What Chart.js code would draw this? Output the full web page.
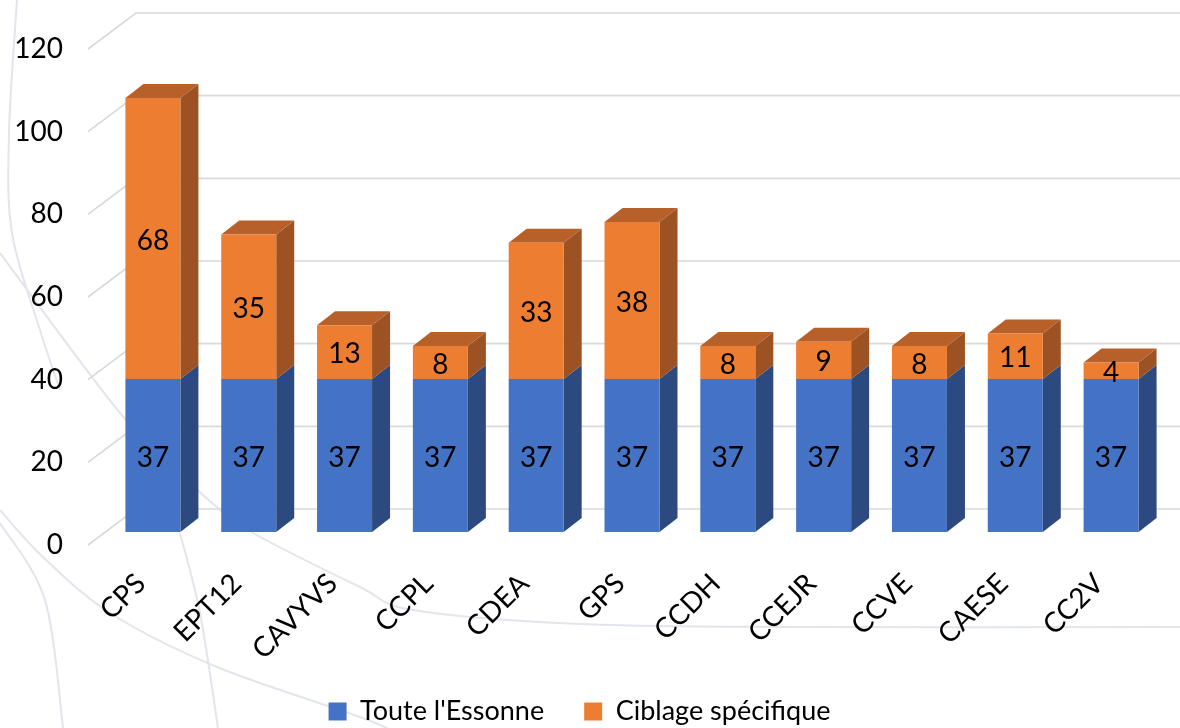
<!DOCTYPE html>
<html><head><meta charset="utf-8">
<script src="https://cdn.jsdelivr.net/npm/chart.js@4.4.1/dist/chart.umd.min.js"></script>
<style>html,body{margin:0;padding:0;background:#fff}#wrap{width:1180px;height:728px;position:relative}</style>
</head><body><div id="wrap"><canvas id="c" width="1180" height="728"></canvas></div>
<script>
// ---- data ----
const categories = ['CPS','EPT12','CAVYVS','CCPL','CDEA','GPS','CCDH','CCEJR','CCVE','CAESE','CC2V'];
const touteEssonne = [37,37,37,37,37,37,37,37,37,37,37];
const ciblageSpecifique = [68,35,13,8,33,38,8,9,8,11,4];
const seriesNames = ["Toute l'Essonne", "Ciblage spécifique"];
const yTicks = [0,20,40,60,80,100,120];

// ---- style ----
const FONT = 'Lato, "Open Sans", sans-serif';
const COL_BLUE = '#4472C4', COL_ORANGE = '#ED7D31';
const SIDE_BLUE = '#2C4A80', SIDE_ORANGE = '#9C5222', TOP_ORANGE = '#B8602A', TOP_BLUE = '#3A62A8';
const FRONT = {dx:-17, dy:13};   // front plane relative to bar front plane
const BACK = {dx:31, dy:-23};    // back wall relative to bar front plane
const BD = {dx:18, dy:-14};      // bar depth
const GRID = '#d9d9d9';

// decorative background curves (slide background)
const bgCurves = [
  [[17,0],[9,133],[12,233],[40,330],[60,390]],
  [[0,253],[120,413],[187,480],[218,508],[253,533],[360,587],[413,610],[580,624],[800,627],[1180,627]],
  [[0,510],[43,557],[110,613],[217,667],[360,717],[400,735]],
  [[0,523],[45,600],[63,728]],
  [[180,533],[200,613],[218,728]]
];
function smooth(ctx, pts){
  ctx.beginPath(); ctx.moveTo(pts[0][0], pts[0][1]);
  for(let i=0;i<pts.length-1;i++){
    const p0=pts[Math.max(0,i-1)], p1=pts[i], p2=pts[i+1], p3=pts[Math.min(pts.length-1,i+2)];
    ctx.bezierCurveTo(p1[0]+(p2[0]-p0[0])/6, p1[1]+(p2[1]-p0[1])/6, p2[0]-(p3[0]-p1[0])/6, p2[1]-(p3[1]-p1[1])/6, p2[0], p2[1]);
  }
  ctx.stroke();
}
function poly(ctx, pts, col){
  ctx.beginPath(); ctx.moveTo(pts[0], pts[1]);
  for(let i=2;i<pts.length;i+=2) ctx.lineTo(pts[i], pts[i+1]);
  ctx.closePath(); ctx.fillStyle=col; ctx.fill();
}

const plugin3d = {
  id:'plugin3d',
  beforeDraw(chart){
    const ctx=chart.ctx; ctx.save();
    ctx.fillStyle='#fff'; ctx.fillRect(0,0,chart.width,chart.height);
    ctx.strokeStyle='#e2e5eb'; ctx.lineWidth=2;
    bgCurves.forEach(c=>smooth(ctx,c));
    ctx.restore();
  },
  beforeDatasetsDraw(chart){
    const ctx=chart.ctx, a=chart.chartArea, ys=chart.scales.y;
    ctx.save();
    ctx.strokeStyle=GRID; ctx.lineWidth=1.6;
    yTicks.forEach(v=>{
      const py=ys.getPixelForValue(v);
      ctx.beginPath();
      ctx.moveTo(a.left+FRONT.dx, py+FRONT.dy);
      ctx.lineTo(a.left+BACK.dx, py+BACK.dy);
      ctx.lineTo(chart.width, py+BACK.dy);
      ctx.stroke();
    });
    const m0=chart.getDatasetMeta(0), m1=chart.getDatasetMeta(1);
    categories.forEach((c,i)=>{
      const segs=[[m0.data[i],SIDE_BLUE],[m1.data[i],SIDE_ORANGE]];
      segs.forEach(([el,col])=>{
        const p=el.getProps(['x','y','base','width'],true);
        const r=p.x+p.width/2;
        poly(ctx,[r,p.y, r+BD.dx,p.y+BD.dy, r+BD.dx,p.base+BD.dy, r,p.base],col);
      });
      const topEl = ciblageSpecifique[i]>0 ? m1.data[i] : m0.data[i];
      const p=topEl.getProps(['x','y','base','width'],true);
      const l=p.x-p.width/2, r=p.x+p.width/2;
      poly(ctx,[l,p.y, l+BD.dx,p.y+BD.dy, r+BD.dx,p.y+BD.dy, r,p.y], ciblageSpecifique[i]>0?TOP_ORANGE:TOP_BLUE);
    });
    ctx.restore();
  },
  afterDatasetsDraw(chart){
    const ctx=chart.ctx; ctx.save();
    ctx.font='28px '+FONT; ctx.fillStyle='#000'; ctx.textAlign='center'; ctx.textBaseline='middle';
    [touteEssonne,ciblageSpecifique].forEach((arr,d)=>{
      const meta=chart.getDatasetMeta(d);
      arr.forEach((v,i)=>{
        const p=meta.data[i].getProps(['x','y','base'],true);
        ctx.fillText(String(v), p.x, (p.y+p.base)/2+2);
      });
    });
    ctx.restore();
  }
};

new Chart(document.getElementById('c'), {
  type:'bar',
  data:{
    labels:categories,
    datasets:[
      {label:seriesNames[0], data:touteEssonne, backgroundColor:COL_BLUE, borderWidth:0},
      {label:seriesNames[1], data:ciblageSpecifique, backgroundColor:COL_ORANGE, borderWidth:0}
    ]
  },
  options:{
    responsive:false, animation:false, devicePixelRatio:1,
    barPercentage:0.574, categoryPercentage:1,
    layout:{padding:{left:0,right:21,top:36,bottom:-7}},
    plugins:{
      tooltip:{enabled:false},
      legend:{position:'bottom', labels:{boxWidth:18, boxHeight:18, padding:40, color:'#000', font:{family:FONT, size:27}}}
    },
    scales:{
      x:{stacked:true, grid:{display:false}, border:{display:false},
         ticks:{autoSkip:false, minRotation:45, maxRotation:45, padding:27, labelOffset:-12, color:'#000', font:{family:FONT, size:28}},
         afterFit(ax){ax.height=126; ax.paddingLeft=0; ax.paddingRight=0;}},
      y:{stacked:true, min:0, max:120, grid:{display:false}, border:{display:false},
         ticks:{stepSize:20, padding:34, labelOffset:13, color:'#000', font:{family:FONT, size:28}},
         afterFit(ax){ax.width=105; ax.paddingTop=0; ax.paddingBottom=0;}}
    }
  },
  plugins:[plugin3d]
});
</script></body></html>
